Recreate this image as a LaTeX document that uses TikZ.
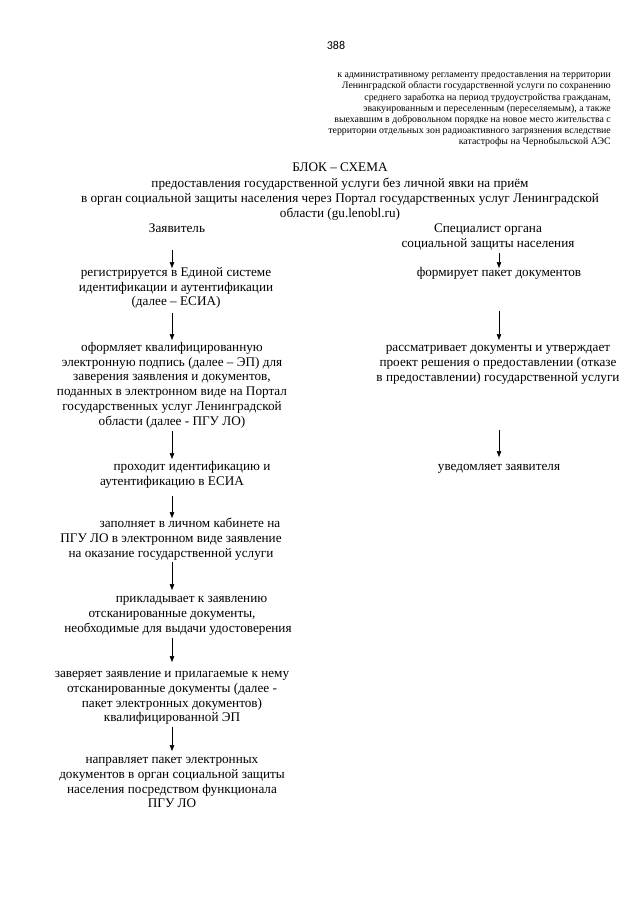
\documentclass[tikz,border=0pt]{standalone}
\usepackage{fontspec}
\setmainfont{Liberation Serif}
\newfontfamily\pagefont{Carlito}
\usetikzlibrary{arrows.meta, positioning}
\tikzset{
  flow/.style={draw, -{Triangle[length=6pt,width=4.5pt]}, line width=0.6pt}, % arrows between the steps
  stage/.style={align=center, inner sep=0pt, anchor=north, font=\fontsize{13.2}{14.8}\selectfont}, % text of one step
}

\begin{document}
\begin{tikzpicture}[x=1pt, y=-1pt]
  \useasboundingbox[fill=white] (0,0) rectangle (640,905);
  % page number and annex note
  \node[font=\pagefont\fontsize{12}{14}\selectfont] (pagenum) at (336,45) {388};
  \node[anchor=north east, align=right, inner sep=0pt, font=\fontsize{9.85}{11.1}\selectfont] (annex) at (611,73)
    {к  административному регламенту предоставления на территории\\
     Ленинградской области государственной услуги  по сохранению\\
     среднего заработка на период  трудоустройства гражданам,\\
     эвакуированным и переселенным (переселяемым), а также\\
     выехавшим в добровольном порядке на новое место жительства с\\
     территории отдельных зон радиоактивного загрязнения вследствие\\
     катастрофы на Чернобыльской АЭС};
  % title
  \node[stage, font=\fontsize{13.2}{15.1}\selectfont] (title) at (340,163)
    {БЛОК – СХЕМА\\
     предоставления государственной услуги  без личной явки на приём\\
     в орган социальной защиты населения через Портал государственных услуг Ленинградской\\
     области (gu.lenobl.ru)};
  % column heads
  \node[stage] (applicant) at (177,224) {Заявитель};
  \node[stage] (specialist) at (488,224) {Специалист органа\\ социальной защиты населения};
  % applicant column
  \node[stage] (reg) at (176,267) {регистрируется в Единой системе\\ идентификации и аутентификации\\ (далее – ЕСИА)};
  \node[stage] (esign) at (172,342) {оформляет  квалифицированную\\ электронную подпись (далее – ЭП) для\\ заверения заявления и документов,\\ поданных в электронном виде на Портал\\ государственных услуг Ленинградской\\ области (далее - ПГУ ЛО)};
  \node[stage] (ident) at (172,461) {\hspace*{40pt}проходит идентификацию и\\ аутентификацию в ЕСИА};
  \node[stage] (fill) at (171,518) {\hspace*{38pt}заполняет в личном кабинете на\\ ПГУ ЛО в электронном виде заявление\\ на оказание государственной услуги};
  \node[stage] (attach) at (172,596) {\hspace*{39pt}прикладывает  к заявлению\\ отсканированные документы,\hspace*{6pt}\\ \hspace*{12pt}необходимые для выдачи удостоверения};
  \node[stage] (certify) at (172,671) {заверяет заявление и прилагаемые к нему\\ отсканированные документы (далее -\\ пакет электронных документов)\\ квалифицированной ЭП};
  \node[stage] (send) at (172,757) {направляет пакет электронных\\ документов в орган социальной защиты\\ населения посредством функционала\\ ПГУ ЛО};
  % specialist column
  \node[stage] (form) at (499,267) {формирует пакет документов};
  \node[stage] (review) at (498,345) {рассматривает документы и утверждает\\ проект решения о предоставлении (отказе\\ в предоставлении) государственной услуги};
  \node[stage] (notify) at (499,464) {уведомляет заявителя};
  % arrows
  \path
    (applicant.south -| esign.north) edge[flow, shorten <=17pt, shorten >=-1pt] (esign.north |- reg.north)
    (reg.south -| esign.north) edge[flow, shorten <=4pt, shorten >=2pt] (esign.north)
    (esign.south) edge[flow, shorten <=2.5pt, shorten >=2pt] (esign.north |- ident.north)
    (ident.south -| esign.north) edge[flow, shorten <=7.5pt] (esign.north |- fill.north)
    (fill.south -| esign.north) edge[flow, shorten <=1.5pt, shorten >=6pt] (esign.north |- attach.north)
    (attach.south -| esign.north) edge[flow, shorten <=2.5pt, shorten >=9pt] (esign.north |- certify.north)
    (certify.south -| esign.north) edge[flow, shorten <=2.5pt, shorten >=6pt] (esign.north |- send.north)
    (specialist.south -| form.north) edge[flow, shorten <=2.5pt, shorten >=-1pt] (form.north)
    (form.south) edge[flow, shorten <=31.5pt, shorten >=5pt] (form.north |- review.north)
    (review.south -| form.north) edge[flow, shorten <=45.5pt, shorten >=7pt] (notify.north);
\end{tikzpicture}
\end{document}
